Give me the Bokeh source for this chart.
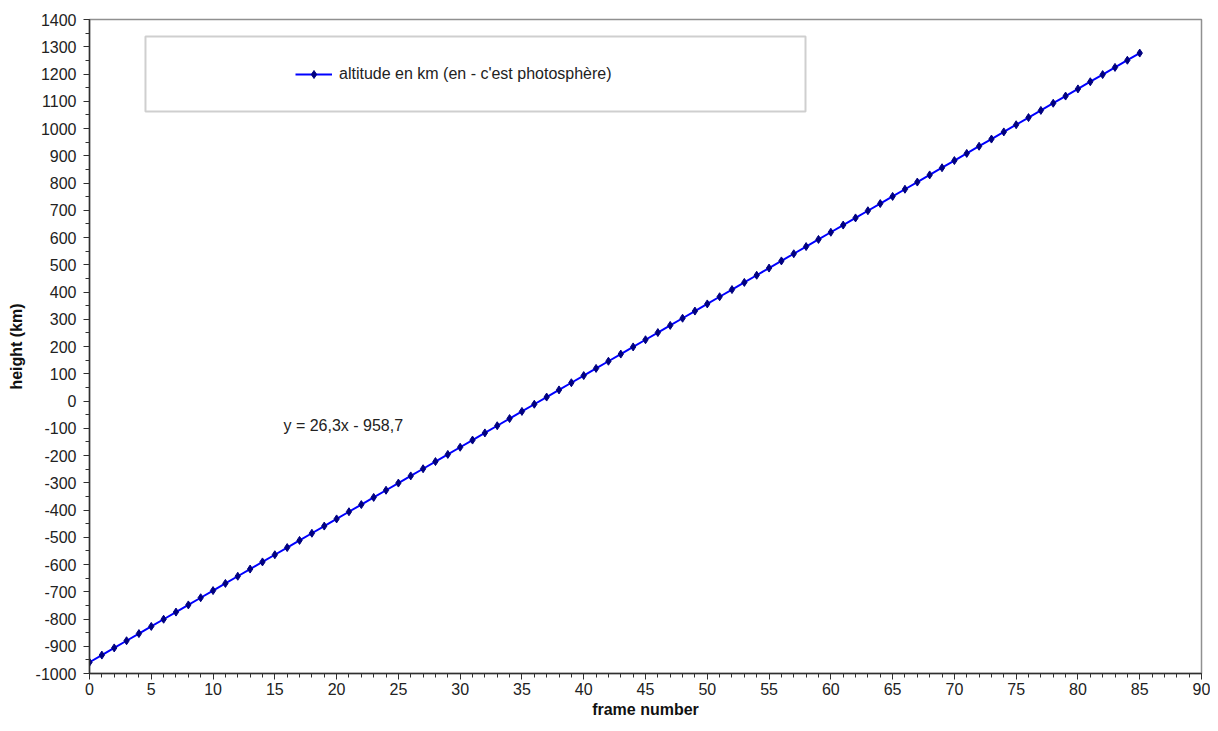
from bokeh.plotting import figure
from bokeh.models import (SingleIntervalTicker, Range1d, BoxAnnotation, Legend, LegendItem,
                          CustomJSTickFormatter)
from bokeh.core.properties import value
from bokeh.embed import file_html
from bokeh.resources import INLINE

frame = list(range(0, 86))
height_km = [
    -958.7, -932.4, -906.1, -879.8, -853.5, -827.2, -800.9, -774.6, -748.3, -722.0,
    -695.7, -669.4, -643.1, -616.8, -590.5, -564.2, -537.9, -511.6, -485.3, -459.0,
    -432.7, -406.4, -380.1, -353.8, -327.5, -301.2, -274.9, -248.6, -222.3, -196.0,
    -169.7, -143.4, -117.1, -90.8, -64.5, -38.2, -11.9, 14.4, 40.7, 67.0,
    93.3, 119.6, 145.9, 172.2, 198.5, 224.8, 251.1, 277.4, 303.7, 330.0,
    356.3, 382.6, 408.9, 435.2, 461.5, 487.8, 514.1, 540.4, 566.7, 593.0,
    619.3, 645.6, 671.9, 698.2, 724.5, 750.8, 777.1, 803.4, 829.7, 856.0,
    882.3, 908.6, 934.9, 961.2, 987.5, 1013.8, 1040.1, 1066.4, 1092.7, 1119.0,
    1145.3, 1171.6, 1197.9, 1224.2, 1250.5, 1276.8,
]
series_label = "altitude en km (en - c'est photosphère)"
equation_label = "y = 26,3x - 958,7"
x_title = "frame number"
y_title = "height (km)"

FONT = "Liberation Sans"

p = figure(width=1210, height=723, output_backend="svg", toolbar_location=None,
           x_range=Range1d(0, 90), y_range=Range1d(-1000, 1400),
           min_border_left=89, min_border_right=9, min_border_top=19, min_border_bottom=50)
p.xgrid.visible = False
p.ygrid.visible = False
p.outline_line_color = "#909090"
p.outline_line_width = 1.5
p.background_fill_color = "white"
p.border_fill_color = "white"

p.xaxis.ticker = SingleIntervalTicker(interval=5, num_minor_ticks=5)
p.yaxis.ticker = SingleIntervalTicker(interval=100, num_minor_ticks=2)
fmt = CustomJSTickFormatter(code="return tick.toFixed(0);")

for ax in (p.xaxis, p.yaxis):
    ax.formatter = fmt
    ax.axis_line_color = "#303030"
    ax.axis_line_width = 1.5
    ax.major_tick_line_color = "#303030"
    ax.minor_tick_line_color = "#303030"
    ax.major_tick_in = 0
    ax.major_tick_out = 6
    ax.minor_tick_in = 0
    ax.minor_tick_out = 4
    ax.major_label_text_font = FONT
    ax.major_label_text_font_size = "16px"
    ax.major_label_text_color = "#222222"
    ax.axis_label_text_font = FONT
    ax.axis_label_text_font_size = "16px"
    ax.axis_label_text_font_style = "bold"
    ax.axis_label_text_color = "#111111"

p.xaxis.axis_label = x_title
p.yaxis.axis_label = y_title
p.xaxis.major_label_standoff = 3
p.yaxis.major_label_standoff = 7
p.xaxis.axis_label_standoff = 3
p.yaxis.axis_label_standoff = 8

box = BoxAnnotation(left=4.53, right=57.95, top=1337.6, bottom=1062.4,
                    fill_color="white", fill_alpha=1.0,
                    line_color="#606060", line_width=2)
p.add_layout(box)

ln = p.line(frame, height_km, line_color="#0000ff", line_width=2)
sc = p.scatter(frame, height_km, marker="diamond", size=8,
               fill_color="#000080", line_color="#000080")

p.text(x=[15.7], y=[-90], text=[equation_label], text_font=value(FONT),
       text_font_size="16px", text_color="#222222", text_baseline="middle",
       text_align="left")

legend = Legend(items=[LegendItem(label=series_label, renderers=[ln, sc])],
                location=(206, 589), border_line_alpha=0, background_fill_alpha=0,
                padding=0, margin=0, glyph_width=37, glyph_height=20,
                label_standoff=7, label_text_font=FONT, label_text_font_size="16px",
                label_text_color="#222222")
p.add_layout(legend)

open("out.html", "w").write(file_html(p, INLINE))
